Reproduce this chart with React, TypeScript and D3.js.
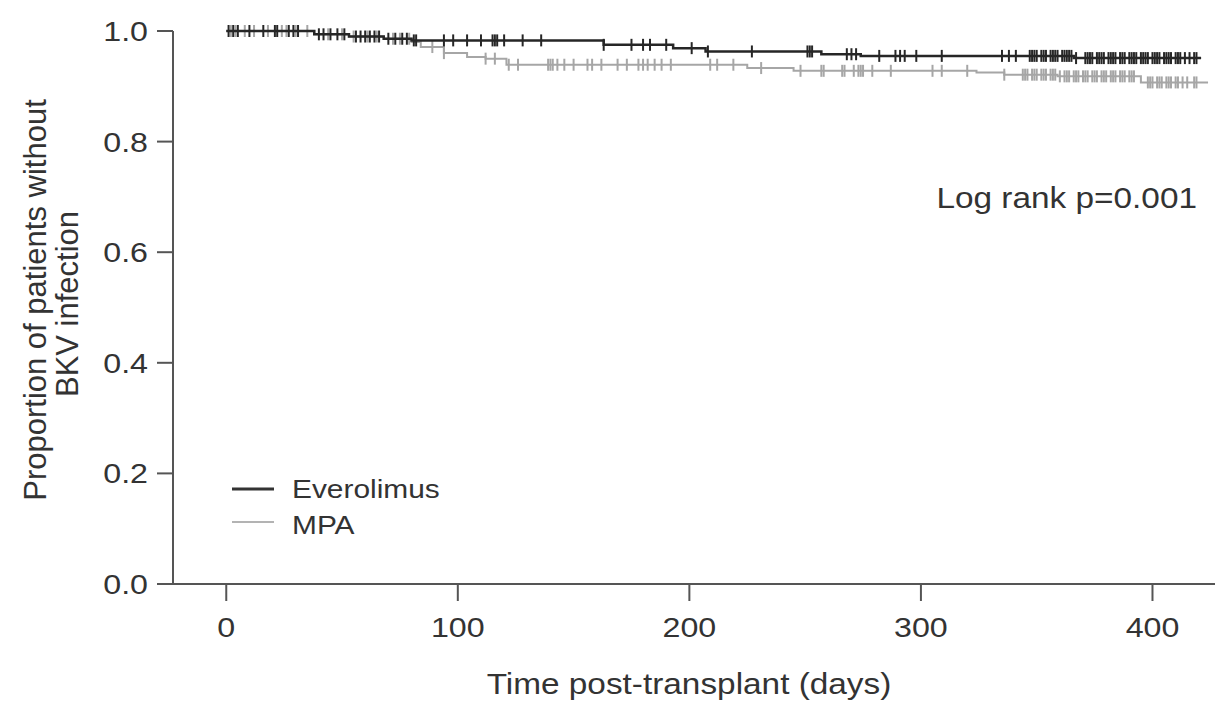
import React from 'react';
import * as d3 from 'd3';

// step points (time in days, survival)
const evrTimes = [0, 38, 53, 68, 80, 163, 193, 207, 257, 274, 366, 421];
const evrSurv = [1.0, 0.994, 0.99, 0.986, 0.983, 0.975, 0.969, 0.963, 0.958, 0.955, 0.951, 0.951];
const mpaTimes = [0, 38, 53, 68, 80, 84, 94, 104, 112, 121, 225, 245, 324, 336, 359, 395, 424];
const mpaSurv = [1.0, 0.994, 0.99, 0.986, 0.98, 0.971, 0.96, 0.953, 0.95, 0.939, 0.933, 0.928, 0.925, 0.921, 0.918, 0.907, 0.907];

const evrCensor = [
  1, 3, 5, 10, 16, 21, 22, 27, 29, 31, 40, 42, 45, 48, 51, 56, 58, 60, 62, 64, 66, 70, 73, 76, 78,
  81, 82, 94, 98, 104, 110, 115, 116, 117, 120, 128, 136, 163, 175, 180, 183, 190, 201, 208, 227,
  251, 252, 253, 268, 270, 272, 282, 289, 291, 293, 298, 309, 335, 338, 341,
  347, 348, 349, 350, 352, 353, 354, 356, 357, 358, 359, 361, 362, 363, 364, 365, 367,
  371, 372, 373, 374, 376, 377, 378, 379, 381, 382, 383, 384, 386, 387, 388, 390, 391, 392, 393,
  395, 396, 397, 398, 400, 401, 402, 403, 405, 406, 407, 408, 410, 411, 412, 414, 416, 418, 419,
];
const mpaCensor = [
  2, 4, 8, 12, 18, 24, 26, 30, 35, 44, 50, 55, 61, 65, 72, 75, 79, 89, 94, 112, 116, 122, 126,
  139, 140, 141, 143, 146, 150, 156, 158, 162, 169, 173, 178, 180, 182, 185, 188, 192, 209, 212,
  219, 231, 248, 257, 258, 266, 267, 271, 273, 274, 275, 279, 287, 305, 309, 320, 336,
  344, 345, 346, 348, 349, 350, 352, 353, 354, 356, 357, 358, 360, 362, 363, 364, 366, 367, 368,
  370, 371, 372, 374, 375, 376, 378, 379, 380, 382, 383, 384, 386, 387, 388, 390, 391, 392,
  398, 399, 400, 402, 403, 404, 406, 407, 408, 410, 411, 413, 415, 418, 419,
];

const xTicks = [0, 100, 200, 300, 400];
const yTicks = [0, 0.2, 0.4, 0.6, 0.8, 1.0];
const groups = ['Everolimus', 'MPA'];

const FONT = '"Liberation Sans", Arial, sans-serif';
const SX = 1.15;
const TEXT = '#333';

const x = d3.scaleLinear().domain([-23, 427]).range([173, 1215]);
const y = d3.scaleLinear().domain([0, 1]).range([584, 31]);

const stepLine = d3.line<[number, number]>()
  .x(d => x(d[0]))
  .y(d => y(d[1]))
  .curve(d3.curveStepAfter);

const survAt = (times: number[], surv: number[], t: number) => {
  const i = d3.bisectRight(times, t) - 1;
  return surv[Math.max(0, i)];
};

const Txt = ({ x0, y0, anchor = 'start', size = 28, children }: any) => (
  <text
    transform={`translate(${x0},${y0}) scale(${SX},1)`}
    textAnchor={anchor}
    fontFamily={FONT}
    fontSize={size}
    fill={TEXT}
  >
    {children}
  </text>
);

const Curve = ({ times, surv, censor, color, width }: any) => (
  <g>
    <path d={stepLine(times.map((t: number, i: number) => [t, surv[i]])) || ''} fill="none" stroke={color} strokeWidth={width} />
    {censor.map((t: number, i: number) => {
      const cy = y(survAt(times, surv, t));
      return <line key={i} x1={x(t)} x2={x(t)} y1={cy - 6} y2={cy + 6} stroke={color} strokeWidth={2} />;
    })}
  </g>
);

export default function App() {
  return (
    <svg width={1215} height={705} style={{ position: 'absolute', left: 0, top: 0, background: '#fff' }}>
      <rect width={1215} height={705} fill="#fff" />

      {/* axes */}
      <line x1={x.range()[0]} x2={x.range()[1]} y1={y(0)} y2={y(0)} stroke="#555" strokeWidth={2} />
      <line x1={173} x2={173} y1={y(0)} y2={y(1)} stroke="#555" strokeWidth={2} />
      {yTicks.map(t => (
        <g key={t}>
          <line x1={157} x2={173} y1={y(t)} y2={y(t)} stroke="#555" strokeWidth={2} />
          <Txt x0={148} y0={y(t) + 10} anchor="end">{t.toFixed(1)}</Txt>
        </g>
      ))}
      {xTicks.map(t => (
        <g key={t}>
          <line x1={x(t)} x2={x(t)} y1={y(0)} y2={y(0) + 17} stroke="#555" strokeWidth={2} />
          <Txt x0={x(t)} y0={637} anchor="middle">{t}</Txt>
        </g>
      ))}

      <Txt x0={689} y0={694} anchor="middle" size={29}>Time post-transplant (days)</Txt>
      <g transform="translate(46,300) rotate(-90)">
        <text textAnchor="middle" fontFamily={FONT} fontSize={31} fill={TEXT}>Proportion of patients without</text>
      </g>
      <g transform="translate(78,304) rotate(-90)">
        <text textAnchor="middle" fontFamily={FONT} fontSize={31} fill={TEXT}>BKV infection</text>
      </g>

      {/* curves */}
      <Curve times={mpaTimes} surv={mpaSurv} censor={mpaCensor} color="#a6a6a6" width={2} />
      <Curve times={evrTimes} surv={evrSurv} censor={evrCensor} color="#262626" width={2.5} />

      <Txt x0={1197} y0={208} anchor="end" size={29}>Log rank p=0.001</Txt>

      {/* legend */}
      <line x1={232} x2={274} y1={489} y2={489} stroke="#333" strokeWidth={3} />
      <Txt x0={292} y0={498} size={26}>{groups[0]}</Txt>
      <line x1={232} x2={274} y1={522} y2={522} stroke="#9a9a9a" strokeWidth={1.5} />
      <Txt x0={292} y0={534} size={26}>{groups[1]}</Txt>
    </svg>
  );
}
